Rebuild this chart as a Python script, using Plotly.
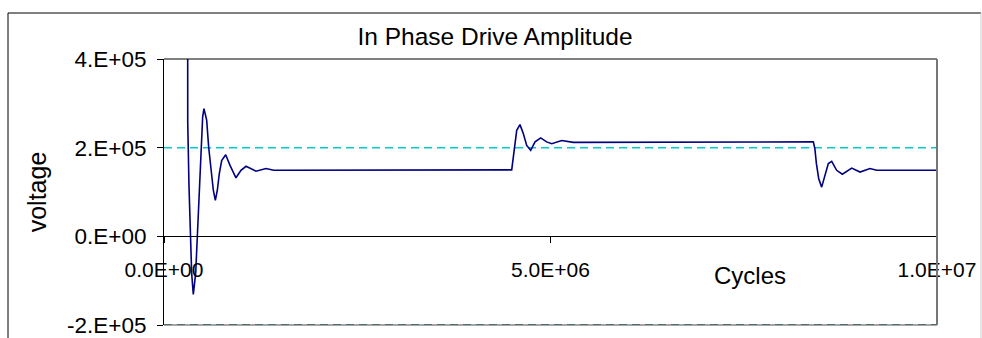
import plotly.graph_objects as go

# ---- data ----
cycles = [0.306e6, 0.307e6, 0.323e6, 0.345e6, 0.358e6, 0.379e6, 0.410e6, 0.423e6, 0.444e6,
          0.466e6, 0.479e6, 0.500e6, 0.517e6, 0.552e6, 0.578e6, 0.604e6, 0.638e6, 0.664e6,
          0.690e6, 0.715e6, 0.746e6, 0.798e6, 0.854e6, 0.931e6, 0.996e6, 1.061e6, 1.190e6,
          1.320e6, 1.420e6,
          4.498e6, 4.520e6, 4.540e6, 4.563e6, 4.605e6, 4.648e6, 4.692e6, 4.744e6, 4.800e6,
          4.873e6, 4.950e6, 5.016e6, 5.145e6, 5.295e6,
          8.400e6, 8.420e6, 8.440e6, 8.470e6, 8.508e6, 8.550e6, 8.594e6, 8.638e6, 8.702e6,
          8.775e6, 8.897e6, 9.004e6, 9.133e6, 9.220e6, 10.0e6]
voltage = [6.0e5, 2.58e5, 1.15e5, -0.09e5, -0.835e5, -1.31e5, -0.83e5, -0.32e5, 0.435e5,
           1.20e5, 1.94e5, 2.69e5, 2.88e5, 2.62e5, 2.01e5, 1.56e5, 1.04e5, 0.81e5,
           1.04e5, 1.41e5, 1.71e5, 1.84e5, 1.60e5, 1.32e5, 1.49e5, 1.58e5, 1.47e5,
           1.53e5, 1.49e5,
           1.50e5, 1.79e5, 2.13e5, 2.39e5, 2.52e5, 2.32e5, 2.05e5, 1.94e5, 2.13e5,
           2.22e5, 2.13e5, 2.09e5, 2.16e5, 2.12e5,
           2.13e5, 1.98e5, 1.64e5, 1.30e5, 1.11e5, 1.38e5, 1.64e5, 1.69e5, 1.49e5,
           1.40e5, 1.54e5, 1.45e5, 1.53e5, 1.49e5, 1.49e5]

target_x = [0, 1.0e7]
target_y = [2.0e5, 2.0e5]
floor_x = [0, 1.0e7]
floor_y = [-2.0e5, -2.0e5]

x_ticks = [0, 5.0e6, 1.0e7]
x_ticktext = ["0.0E+00", "5.0E+06", "1.0E+07"]
y_ticks = [-2.0e5, 0, 2.0e5, 4.0e5]
y_ticktext = ["-2.E+05", "0.E+00", "2.E+05", "4.E+05"]

FONT = "Liberation Sans, Arial, sans-serif"

fig = go.Figure()
fig.add_trace(go.Scatter(x=floor_x, y=floor_y, mode="lines",
                         line=dict(color="#2f5f5f", width=1.5, dash="8px,5px"),
                         showlegend=False, hoverinfo="skip"))
fig.add_trace(go.Scatter(x=target_x, y=target_y, mode="lines",
                         line=dict(color="#00cccc", width=1.5, dash="8px,5px"),
                         showlegend=False, hoverinfo="skip"))
fig.add_trace(go.Scatter(x=cycles, y=voltage, mode="lines",
                         line=dict(color="#000080", width=1.6),
                         showlegend=False))

fig.update_layout(
    width=982, height=338,
    margin=dict(l=164, r=45, t=59, b=13, autoexpand=False),
    paper_bgcolor="white", plot_bgcolor="white",
    font=dict(family=FONT, color="black", size=21),
    title=dict(text="In Phase Drive Amplitude", font=dict(size=24.5, family=FONT, color="black"),
               xref="container", x=495 / 982, xanchor="center",
               yref="container", y=1 - 36 / 338, yanchor="middle", automargin=False),
    xaxis=dict(range=[0, 1.0e7], tickvals=x_ticks, ticktext=x_ticktext, automargin=False,
               anchor="free", position=1 / 3, showline=True, linecolor="black", linewidth=1,
               ticks="outside", ticklen=6, tickcolor="black", showgrid=False, zeroline=False,
               tickfont=dict(size=21), ticklabelstandoff=8, ticklabeloverflow="allow"),
    yaxis=dict(range=[-2.0e5, 4.0e5], tickvals=y_ticks, ticktext=y_ticktext, automargin=False,
               showline=True, linecolor="black", linewidth=1,
               ticks="outside", ticklen=6, tickcolor="black", showgrid=False, zeroline=False,
               tickfont=dict(size=22.5), ticklabelstandoff=6, ticklabeloverflow="allow",
               title=dict(text="voltage", font=dict(size=25), standoff=13)),
    shapes=[
        dict(type="line", xref="paper", yref="paper", x0=0, x1=1, y0=1, y1=1,
             line=dict(color="black", width=1)),
        dict(type="line", xref="paper", yref="paper", x0=1, x1=1, y0=0, y1=1,
             line=dict(color="#777777", width=2)),
        dict(type="line", xref="paper", yref="paper", x0=0, x1=1, y0=0, y1=0,
             line=dict(color="#888888", width=1.5), layer="below"),
        dict(type="line", xref="paper", yref="paper", x0=-0.2018, x1=1.0569, y0=1.1729, y1=1.1729,
             line=dict(color="black", width=1)),
        dict(type="line", xref="paper", yref="paper", x0=-0.2018, x1=-0.2018, y0=-0.2, y1=1.1729,
             line=dict(color="black", width=1)),
        dict(type="line", xref="paper", yref="paper", x0=1.0569, x1=1.0569, y0=-0.2, y1=1.1729,
             line=dict(color="#cccccc", width=1)),
    ],
    annotations=[
        dict(text="Cycles", xref="paper", yref="paper", x=(750 - 164) / 773, y=(325 - 275) / 266,
             xanchor="center", yanchor="middle", showarrow=False,
             font=dict(size=24, family=FONT, color="black")),
    ],
)

fig.write_html("out.html", config={"displayModeBar": False},
               post_script="document.body.style.margin='0';document.body.style.overflow='hidden';")
